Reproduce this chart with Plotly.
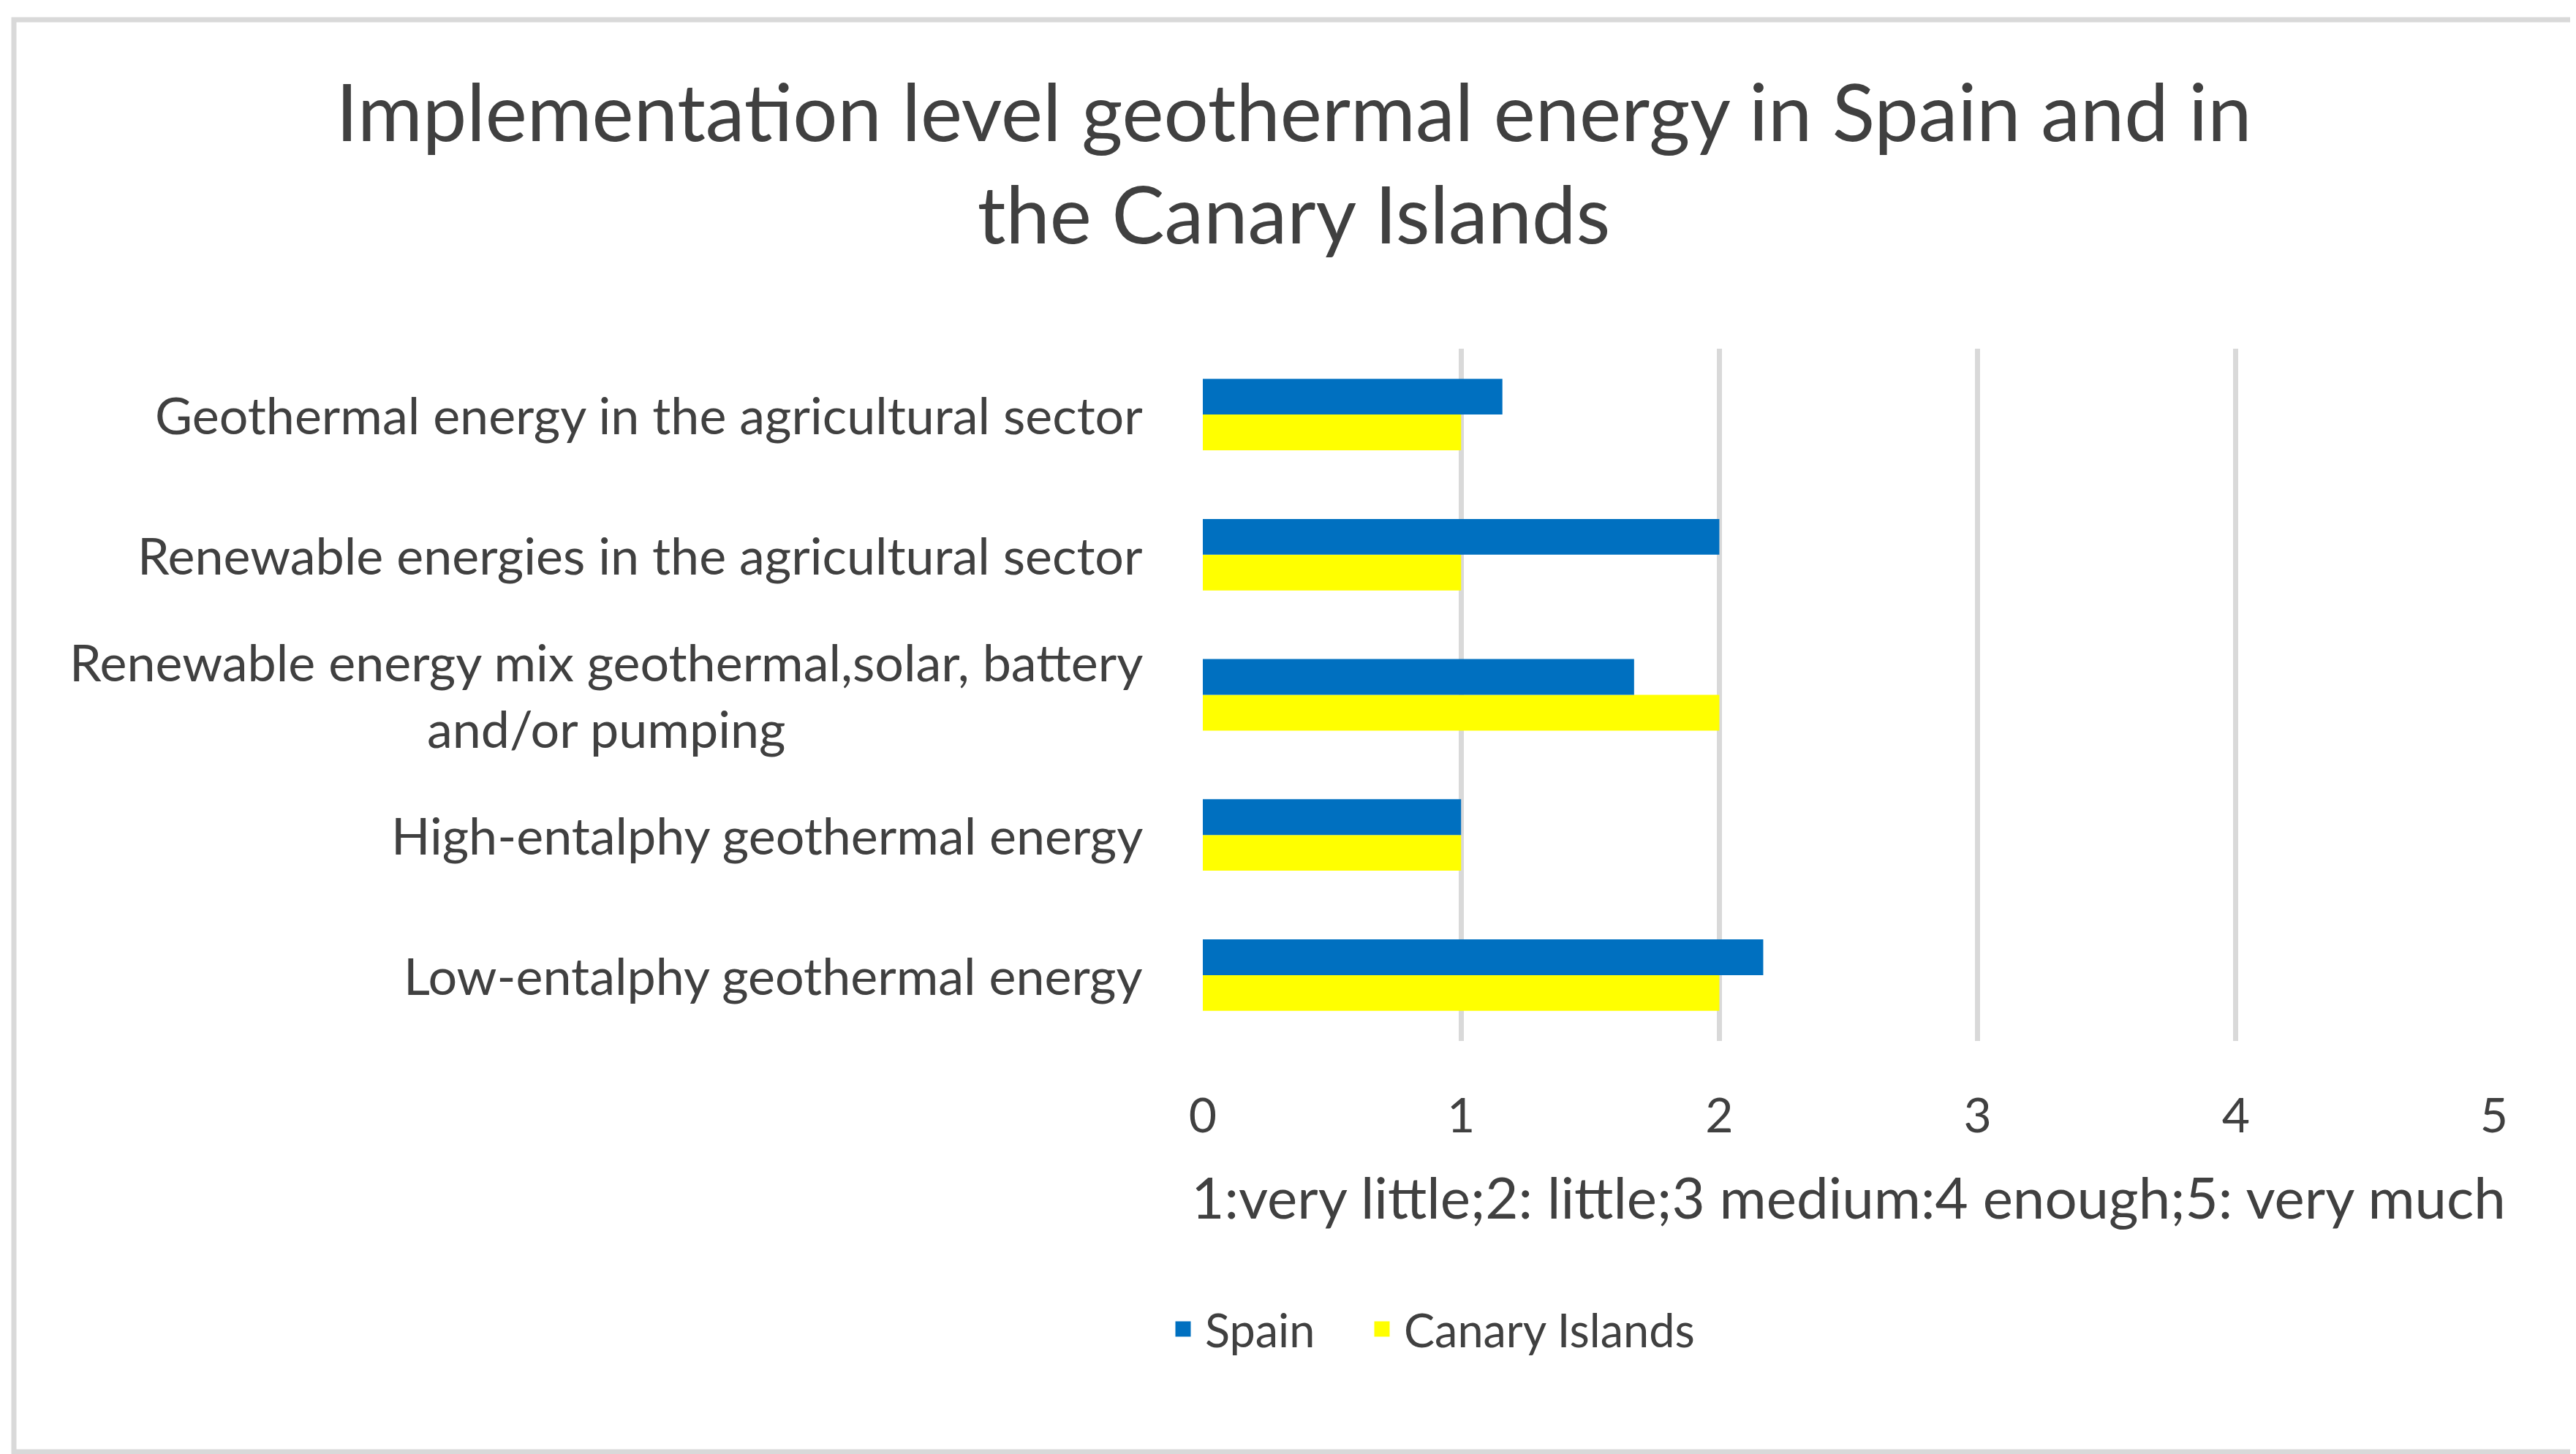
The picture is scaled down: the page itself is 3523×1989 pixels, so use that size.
import plotly.graph_objects as go

W, H = 3523, 1989

categories = [
    "Low-entalphy geothermal energy",
    "High-entalphy geothermal energy",
    "Renewable energy mix geothermal,solar, battery<br>and/or pumping",
    "Renewable energies in the agricultural sector",
    "Geothermal energy in the agricultural sector",
]
spain = [2.17, 1.0, 1.67, 2.0, 1.16]
canary = [2.0, 1.0, 2.0, 1.0, 1.0]
x_ticks = [0, 1, 2, 3, 4, 5]

title_text = "Implementation level geothermal energy in Spain and in<br>the Canary Islands"
axis_title = "1:very little;2: little;3 medium:4 enough;5: very much"

FONT = "Lato"
TXT = "#404040"
GRID = "#D9D9D9"
BLUE = "#0070C0"
YELLOW = "#FFFF00"

# plot area in pixels
L, R, T, B = 1637, 120, 469, 573
pw, ph = W - L - R, H - T - B


def px_x(x):
    return (x - L) / pw


def px_y(y):
    return (H - B - y) / ph


fig = go.Figure()
# canary first so that spain sits on top inside each group
fig.add_trace(go.Bar(y=categories, x=canary, orientation="h", name="Canary Islands",
                     marker=dict(color=YELLOW, line=dict(width=0)), showlegend=False))
fig.add_trace(go.Bar(y=categories, x=spain, orientation="h", name="Spain",
                     marker=dict(color=BLUE, line=dict(width=0)), showlegend=False))

# legend entries with bigger square symbols, one legend each so spacing matches
for name, col, lg in [("Spain", BLUE, "legend"), ("Canary Islands", YELLOW, "legend2")]:
    fig.add_trace(go.Scatter(x=[None], y=[None], mode="markers", name=name, legend=lg,
                             marker=dict(symbol="square", size=16, color=col,
                                         line=dict(color=col, width=5))))

for c in categories:
    fig.add_annotation(x=0, xref="paper", y=c, yref="y", text=c, showarrow=False,
                       xanchor="right", yanchor="middle", align="center", xshift=-80,
                       font=dict(family=FONT, size=70, color=TXT))

legend_style = dict(orientation="h", xanchor="left", y=px_y(1810), yanchor="middle",
                    font=dict(family=FONT, size=63, color=TXT), bgcolor="rgba(0,0,0,0)",
                    itemwidth=50, itemsizing="trace")

fig.update_layout(
    width=W, height=H,
    margin=dict(l=L, r=R, t=T, b=B, autoexpand=False),
    paper_bgcolor="white", plot_bgcolor="white",
    barmode="group", bargap=0.49, bargroupgap=0,
    title=dict(text=title_text, x=0.5, xanchor="center", xref="container",
               y=1 - 185 / H, yanchor="middle", yref="container",
               font=dict(family=FONT, size=108, color=TXT)),
    font=dict(family=FONT, color=TXT),
    xaxis=dict(range=[0, 5], tickvals=x_ticks, showgrid=True, gridcolor=GRID, gridwidth=7,
               zeroline=False, showline=False, ticks="", ticklabelstandoff=58,
               tickfont=dict(family=FONT, size=66, color=TXT),
               title=dict(text=axis_title, standoff=50, font=dict(family=FONT, size=78, color=TXT))),
    yaxis=dict(showticklabels=False, showgrid=False, zeroline=False, showline=False, ticks="",
               range=[-0.47, 4.47]),
    legend=dict(x=px_x(1580), **legend_style),
    legend2=dict(x=px_x(1852), **legend_style),
    showlegend=True,
)

fig.add_shape(type="rect", xref="paper", yref="paper",
              x0=px_x(11), x1=px_x(3511), y0=px_y(1978), y1=px_y(19),
              line=dict(color=GRID, width=7), fillcolor="rgba(0,0,0,0)", layer="below")

fig.write_html("out.html")
